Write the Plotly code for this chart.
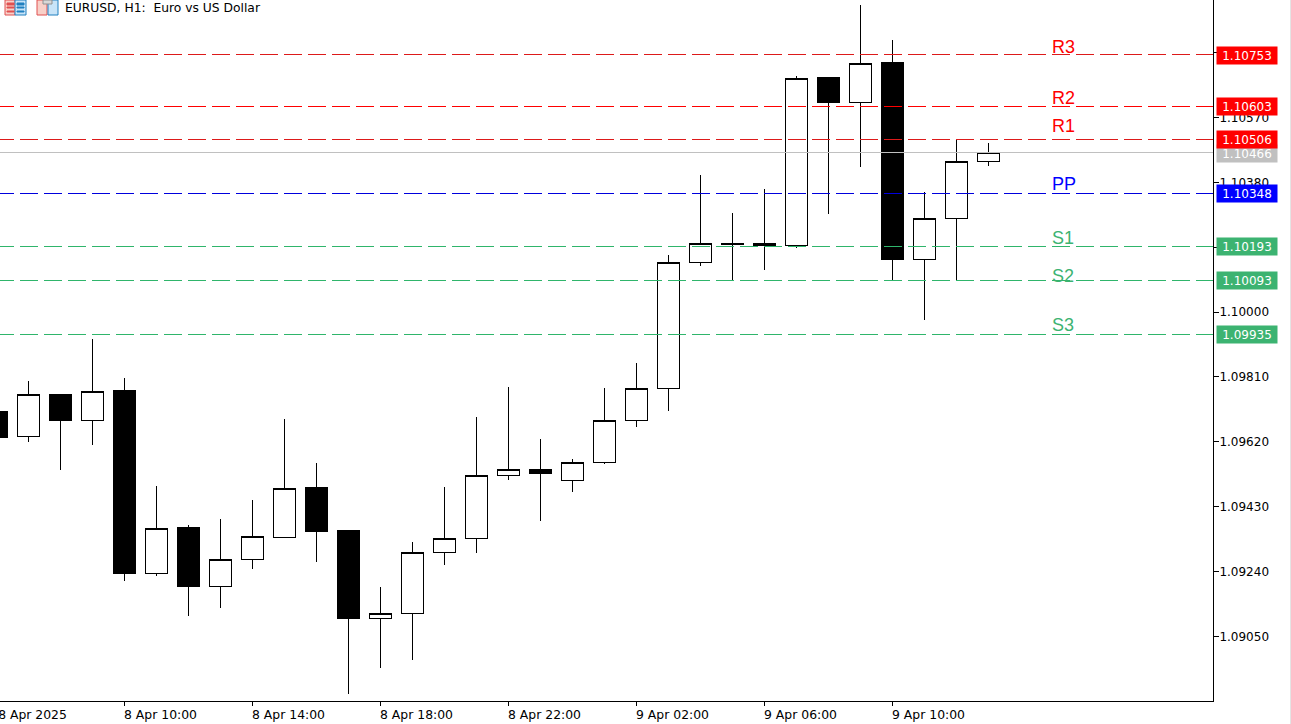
from datetime import datetime, timedelta
import plotly.graph_objects as go

# ---- data ----
times = [datetime(2025, 4, 8, 6) + timedelta(hours=i) for i in range(32)]
opens = [1.09710, 1.09635, 1.09760, 1.09683, 1.09769, 1.09235, 1.09368, 1.09197,
         1.09276, 1.09340, 1.09485, 1.09359, 1.09103, 1.09118, 1.09297, 1.09338,
         1.09522, 1.09540, 1.09507, 1.09560, 1.09683, 1.09777, 1.10146, 1.10202,
         1.10200, 1.10196, 1.10686, 1.10614, 1.10730, 1.10155, 1.10275, 1.10442]
highs = [1.09710, 1.09798, 1.09760, 1.09921, 1.09807, 1.09491, 1.09377, 1.09394,
         1.09450, 1.09687, 1.09558, 1.09362, 1.09195, 1.09327, 1.09488, 1.09693,
         1.09781, 1.09628, 1.09570, 1.09778, 1.09851, 1.10167, 1.10402, 1.10290,
         1.10361, 1.10692, 1.10686, 1.10899, 1.10797, 1.10352, 1.10507, 1.10495]
lows = [1.09634, 1.09620, 1.09538, 1.09612, 1.09213, 1.09228, 1.09111, 1.09134,
        1.09248, 1.09340, 1.09269, 1.08882, 1.08958, 1.08982, 1.09260, 1.09295,
        1.09509, 1.09389, 1.09474, 1.09556, 1.09664, 1.09711, 1.10136, 1.10094,
        1.10124, 1.10189, 1.10288, 1.10426, 1.10094, 1.09978, 1.10094, 1.10429]
closes = [1.09634, 1.09759, 1.09682, 1.09768, 1.09234, 1.09367, 1.09196, 1.09276,
          1.09343, 1.09484, 1.09357, 1.09102, 1.09118, 1.09297, 1.09338, 1.09522,
          1.09540, 1.09527, 1.09560, 1.09683, 1.09777, 1.10146, 1.10202, 1.10197,
          1.10194, 1.10685, 1.10613, 1.10729, 1.10153, 1.10275, 1.10442, 1.10466]

level_names = ["R3", "R2", "R1", "PP", "S1", "S2", "S3"]
level_values = [1.10753, 1.10603, 1.10506, 1.10348, 1.10193, 1.10093, 1.09935]
level_colors = ["#ff0000", "#ff0000", "#ff0000", "#0000ff", "#3cb371", "#3cb371", "#3cb371"]
level_line_colors = ["#dd1a1a", "#ff0000", "#dd1a1a", "#0000dd", "#2fb56b", "#2fb56b", "#2fb56b"]
level_text_shift = [8, 8, 13, 9, 8, 4, 9]
last_price = 1.10466

y_ticks = [1.09050, 1.09240, 1.09430, 1.09620, 1.09810, 1.10000, 1.10190, 1.10380, 1.10570, 1.10760]
x_tick_times = [datetime(2025, 4, 8, 6) + timedelta(hours=4 * i) for i in range(8)]
x_tick_labels = ["8 Apr 2025", "8 Apr 10:00", "8 Apr 14:00", "8 Apr 18:00", "8 Apr 22:00",
                 "9 Apr 02:00", "9 Apr 06:00", "9 Apr 10:00"]
title_text = "EURUSD, H1:  Euro vs US Dollar"

# ---- geometry ----
W, H = 1291, 724
PLOT_R, PLOT_B = 1213, 701
PX_PER_HOUR = 32
x_start = times[0] + timedelta(hours=3.5 / PX_PER_HOUR)
x_end = x_start + timedelta(hours=PLOT_R / PX_PER_HOUR)
label_shift = timedelta(hours=36 / PX_PER_HOUR)
FONT = "DejaVu Sans"


def px(x):
    return x / PLOT_R


def py(y):
    return 1 - y / PLOT_B


fig = go.Figure()
fig.add_trace(go.Candlestick(
    x=times, open=opens, high=highs, low=lows, close=closes,
    increasing=dict(line=dict(color="black", width=1), fillcolor="white"),
    decreasing=dict(line=dict(color="black", width=1), fillcolor="black"),
    whiskerwidth=0, hoverinfo="skip", showlegend=False,
))
fig.add_trace(go.Scatter(
    x=[x_start, x_end], y=[last_price, last_price], mode="lines",
    line=dict(color="#c0c0c0", width=1), hoverinfo="skip", showlegend=False,
))
for name, val, col in zip(level_names, level_values, level_line_colors):
    fig.add_trace(go.Scatter(
        x=[x_start - timedelta(hours=4 / PX_PER_HOUR), x_end], y=[val, val], mode="lines",
        line=dict(color=col, width=1, dash="18px,6px"), hoverinfo="skip",
        showlegend=False, name=name,
    ))
# carrier for the second x axis that holds the tick labels
fig.add_trace(go.Scatter(x=[times[0]], y=[last_price], xaxis="x2", mode="markers",
                         marker=dict(opacity=0), hoverinfo="skip", showlegend=False))

annotations = [dict(x=px(1216), xref="paper", y=last_price, yref="y", xanchor="left",
                    yanchor="middle", yshift=-0.5, text=f"{last_price:.5f}", showarrow=False,
                    bgcolor="#c0c0c0", width=60, height=17, borderpad=0,
                    font=dict(family=FONT, size=12, color="white"))]
for name, val, col, shift in zip(level_names, level_values, level_colors, level_text_shift):
    annotations.append(dict(x=px(1216), xref="paper", y=val, yref="y", xanchor="left",
                            yanchor="middle", yshift=-0.5, text=f"{val:.5f}", showarrow=False, bgcolor=col,
                            width=60, height=17, borderpad=0,
                            font=dict(family=FONT, size=12, color="white")))
    annotations.append(dict(x=px(1051), xref="paper", y=val, yref="y", xanchor="left",
                            yanchor="middle", yshift=shift, text=name, showarrow=False,
                            borderpad=0, font=dict(family="Liberation Sans", size=18, color=col)))
annotations.append(dict(x=px(64), xref="paper", y=py(8), yref="paper", xanchor="left",
                        yanchor="middle", text=title_text, showarrow=False, borderpad=0,
                        font=dict(family=FONT, size=12.3, color="black")))


def rect(x0, y0, x1, y1, fill, line):
    return dict(type="rect", xref="paper", yref="paper", x0=px(x0), x1=px(x1), y0=py(y0), y1=py(y1),
                fillcolor=fill, line=dict(color=line, width=1))


shapes = [
    # window-icon glyphs at the top-left
    rect(5, 0, 15, 15, "#f8d0c8", "#e05050"),
    rect(15, 0, 26, 15, "#c8e4f8", "#2080c0"),
    rect(7, 3, 14, 5, "#e05050", "#e05050"),
    rect(7, 7, 14, 8, "#e05050", "#e05050"),
    rect(7, 11, 14, 12, "#e05050", "#e05050"),
    rect(17, 3, 24, 5, "#2080c0", "#2080c0"),
    rect(17, 7, 24, 8, "#2080c0", "#2080c0"),
    rect(17, 11, 24, 12, "#2080c0", "#2080c0"),
    rect(37, 0, 47, 15, "#f8d0c8", "#e05050"),
    rect(48, 0, 58, 15, "#c8e4f8", "#2080c0"),
    rect(43, 0, 52, 4, "#d8d8d8", "#909090"),
    # right window border
    dict(type="line", xref="paper", yref="paper", x0=px(1290.5), x1=px(1290.5), y0=py(724), y1=py(0),
         line=dict(color="#e4e4e4", width=1)),
]

fig.update_layout(
    width=W, height=H, margin=dict(l=0, r=W - PLOT_R, t=0, b=H - PLOT_B, autoexpand=False),
    paper_bgcolor="white", plot_bgcolor="white", showlegend=False,
    font=dict(family=FONT, size=12, color="black"),
    annotations=annotations, shapes=shapes, boxmode="group", boxgap=0.3125, boxgroupgap=0,
    xaxis=dict(type="date", range=[x_start, x_end], rangeslider=dict(visible=False),
               tickmode="array", tickvals=x_tick_times, ticktext=[""] * len(x_tick_times),
               ticks="outside", ticklen=4, tickcolor="black", showgrid=False, zeroline=False,
               showline=True, linecolor="black", linewidth=1, anchor="y", automargin=False),
    xaxis2=dict(type="date", range=[x_start - label_shift, x_end - label_shift], overlaying="x",
                side="bottom", anchor="y", tickmode="array", tickvals=x_tick_times,
                ticktext=x_tick_labels, ticks="", showgrid=False, zeroline=False, showline=False,
                tickangle=0, ticklabeloverflow="allow", ticklabelstandoff=5, automargin=False,
                tickfont=dict(family=FONT, size=12.4, color="black")),
    yaxis=dict(side="right", range=[1.08861, 1.10914], tickmode="array", tickvals=y_ticks,
               ticktext=[f"{v:.5f}" for v in y_ticks], ticks="outside", ticklen=5, tickcolor="black",
               ticklabelstandoff=-2, showgrid=False, zeroline=False, showline=True,
               linecolor="black", linewidth=1, automargin=False,
               tickfont=dict(family=FONT, size=12, color="black")),
)
fig.write_html(
    "out.html", config=dict(displayModeBar=False),
    post_script=(
        "document.body.style.margin='0';document.body.style.overflow='hidden';"
        "var s=document.createElement('style');"
        "s.textContent='.trace path,.scatterlayer path,.boxlayer path{shape-rendering:crispEdges !important}';"
        "document.head.appendChild(s);"
    ),
)
